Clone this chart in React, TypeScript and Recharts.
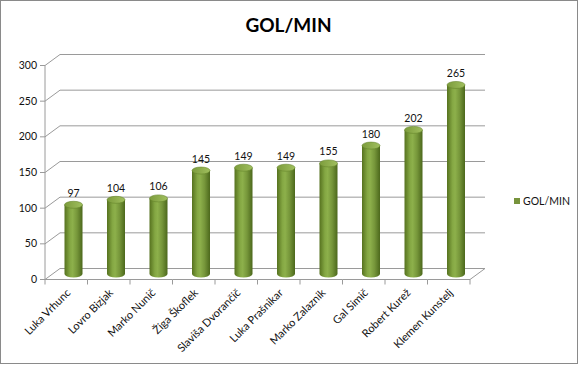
import React from 'react';
import { BarChart, Bar, XAxis, YAxis, CartesianGrid, LabelList, Legend } from 'recharts';

const players = [
  'Luka Vrhunc',
  'Lovro Bizjak',
  'Marko Nunič',
  'Žiga Škoflek',
  'Slaviša Dvorančič',
  'Luka Prašnikar',
  'Marko Zalaznik',
  'Gal Simič',
  'Robert Kurež',
  'Klemen Kunstelj',
];
const golMin = [97, 104, 106, 145, 149, 149, 155, 180, 202, 265];
const yTicks = [0, 50, 100, 150, 200, 250, 300];
const seriesName = 'GOL/MIN';
const chartTitle = 'GOL/MIN';

const data = players.map((name, i) => ({ name, value: golMin[i] }));

const W = 579;
const H = 365;
const M_TOP = 60;
const M_RIGHT = 101.5;
const Y_W = 52.5;
const X_H = 91;
const PLOT_LEFT = Y_W;
const PLOT_BOTTOM = H - X_H;
const PLOT_W = W - Y_W - M_RIGHT;
const BAND = PLOT_W / players.length;
const DX = 7.5;
const DY = 5.5;
const GRID = '#9a9a9a';
const FONT = 'Lato, "Open Sans", sans-serif';
const TXT = '#111';

const YTick = (props: any) => {
  const { y, payload } = props;
  const fx = PLOT_LEFT - DX;
  const fy = y + DY;
  const top = payload.value === yTicks[yTicks.length - 1];
  return (
    <g>
      <line x1={fx - 5} y1={fy} x2={fx} y2={fy} stroke={GRID} />
      <line x1={fx} y1={fy} x2={fx + 2 * DX} y2={y - DY} stroke={GRID} />
      {top && <line x1={fx} y1={fy} x2={fx} y2={PLOT_BOTTOM + DY} stroke={GRID} />}
      <text x={fx - 8} y={fy + 3.5} textAnchor="end" fontSize={10.5} fill={TXT} fontFamily={FONT}>
        {payload.value}
      </text>
    </g>
  );
};

const XTick = (props: any) => {
  const { x, payload, index } = props;
  const fx = x - DX;
  const fy = PLOT_BOTTOM + DY;
  const left = fx - BAND / 2;
  const right = fx + BAND / 2;
  const last = index === players.length - 1;
  return (
    <g>
      <line x1={left} y1={fy} x2={right} y2={fy} stroke={GRID} />
      <line x1={left} y1={fy} x2={left} y2={fy + 5} stroke={GRID} />
      {last && (
        <>
          <line x1={right} y1={fy} x2={right} y2={fy + 5} stroke={GRID} />
          <line x1={right} y1={fy} x2={right + 2 * DX} y2={PLOT_BOTTOM - DY} stroke={GRID} />
        </>
      )}
      <text
        transform={`translate(${fx + 5},${fy + 14}) rotate(-45)`}
        textAnchor="end"
        fontSize={11}
        fill={TXT}
        fontFamily={FONT}
      >
        {payload.value}
      </text>
    </g>
  );
};

const Cylinder = (props: any) => {
  const { x, y, width, height } = props;
  if (width == null || height == null) return null;
  const rx = width / 2;
  const ry = 3.5;
  const b = y + height;
  const d = `M${x},${y} L${x},${b} A${rx},${ry} 0 0 0 ${x + width},${b} L${x + width},${y} Z`;
  return (
    <g>
      <path d={d} fill="url(#cylBody)" />
      <ellipse cx={x + rx} cy={y} rx={rx} ry={ry} fill="url(#cylTop)" stroke="#67862c" strokeWidth={0.6} />
    </g>
  );
};

const ValueLabel = (props: any) => {
  const { x, y, width, value } = props;
  return (
    <text x={x + width / 2} y={y - 8} textAnchor="middle" fontSize={10.5} fill={TXT} fontFamily={FONT}>
      {value}
    </text>
  );
};

const LegendContent = () => (
  <div style={{ display: 'flex', alignItems: 'center', fontFamily: FONT, fontSize: 10.5, color: TXT, lineHeight: '13px', whiteSpace: 'nowrap' }}>
    <span style={{ display: 'inline-block', width: 6, height: 6, background: '#77933C', marginRight: 3 }} />
    {seriesName}
  </div>
);

export default function App() {
  return (
    <div style={{ position: 'relative', width: W, height: H, background: '#fff' }}>
      <style>{'body{margin:0}'}</style>
      <BarChart
        width={W}
        height={H}
        data={data}
        margin={{ top: M_TOP, right: M_RIGHT, left: 0, bottom: 0 }}
        barSize={18}
      >
        <defs>
          <linearGradient id="cylBody" x1="0" y1="0" x2="1" y2="0">
            <stop offset="0" stopColor="#56721f" />
            <stop offset="0.3" stopColor="#84a743" />
            <stop offset="0.45" stopColor="#8db04b" />
            <stop offset="0.7" stopColor="#76963a" />
            <stop offset="1" stopColor="#4c681c" />
          </linearGradient>
          <linearGradient id="cylTop" x1="0" y1="0" x2="1" y2="0">
            <stop offset="0" stopColor="#7c9c3c" />
            <stop offset="1" stopColor="#a0bf5e" />
          </linearGradient>
        </defs>
        <CartesianGrid
          vertical={false}
          horizontal={(p: any) => (
            <line
              key={`h-${p.index}`}
              x1={p.x1 + DX}
              y1={p.y1 - DY}
              x2={p.x2 + DX}
              y2={p.y2 - DY}
              stroke={GRID}
            />
          )}
        />
        <XAxis
          dataKey="name"
          height={X_H}
          interval={0}
          tickLine={false}
          axisLine={false}
          tickSize={0}
          tickMargin={0}
          tick={<XTick />}
        />
        <YAxis
          width={Y_W}
          domain={[0, 300]}
          ticks={yTicks}
          interval={0}
          tickLine={false}
          axisLine={false}
          tick={<YTick />}
        />
        <Legend
          layout="vertical"
          align="center"
          verticalAlign="middle"
          content={<LegendContent />}
          wrapperStyle={{ left: 514, top: 194.5, width: 60, height: 13 }}
        />
        <Bar dataKey="value" name={seriesName} shape={<Cylinder />} isAnimationActive={false}>
          <LabelList dataKey="value" content={<ValueLabel />} />
        </Bar>
      </BarChart>
      <svg width={W} height={H} style={{ position: 'absolute', left: 0, top: 0, pointerEvents: 'none' }}>
        <rect x={0.5} y={0.5} width={577} height={363} fill="none" stroke="#8a8a8a" />
        <text x={288.5} y={32} textAnchor="middle" fontSize={19} fontWeight={700} fill="#000" fontFamily={FONT}>
          {chartTitle}
        </text>
      </svg>
    </div>
  );
}
